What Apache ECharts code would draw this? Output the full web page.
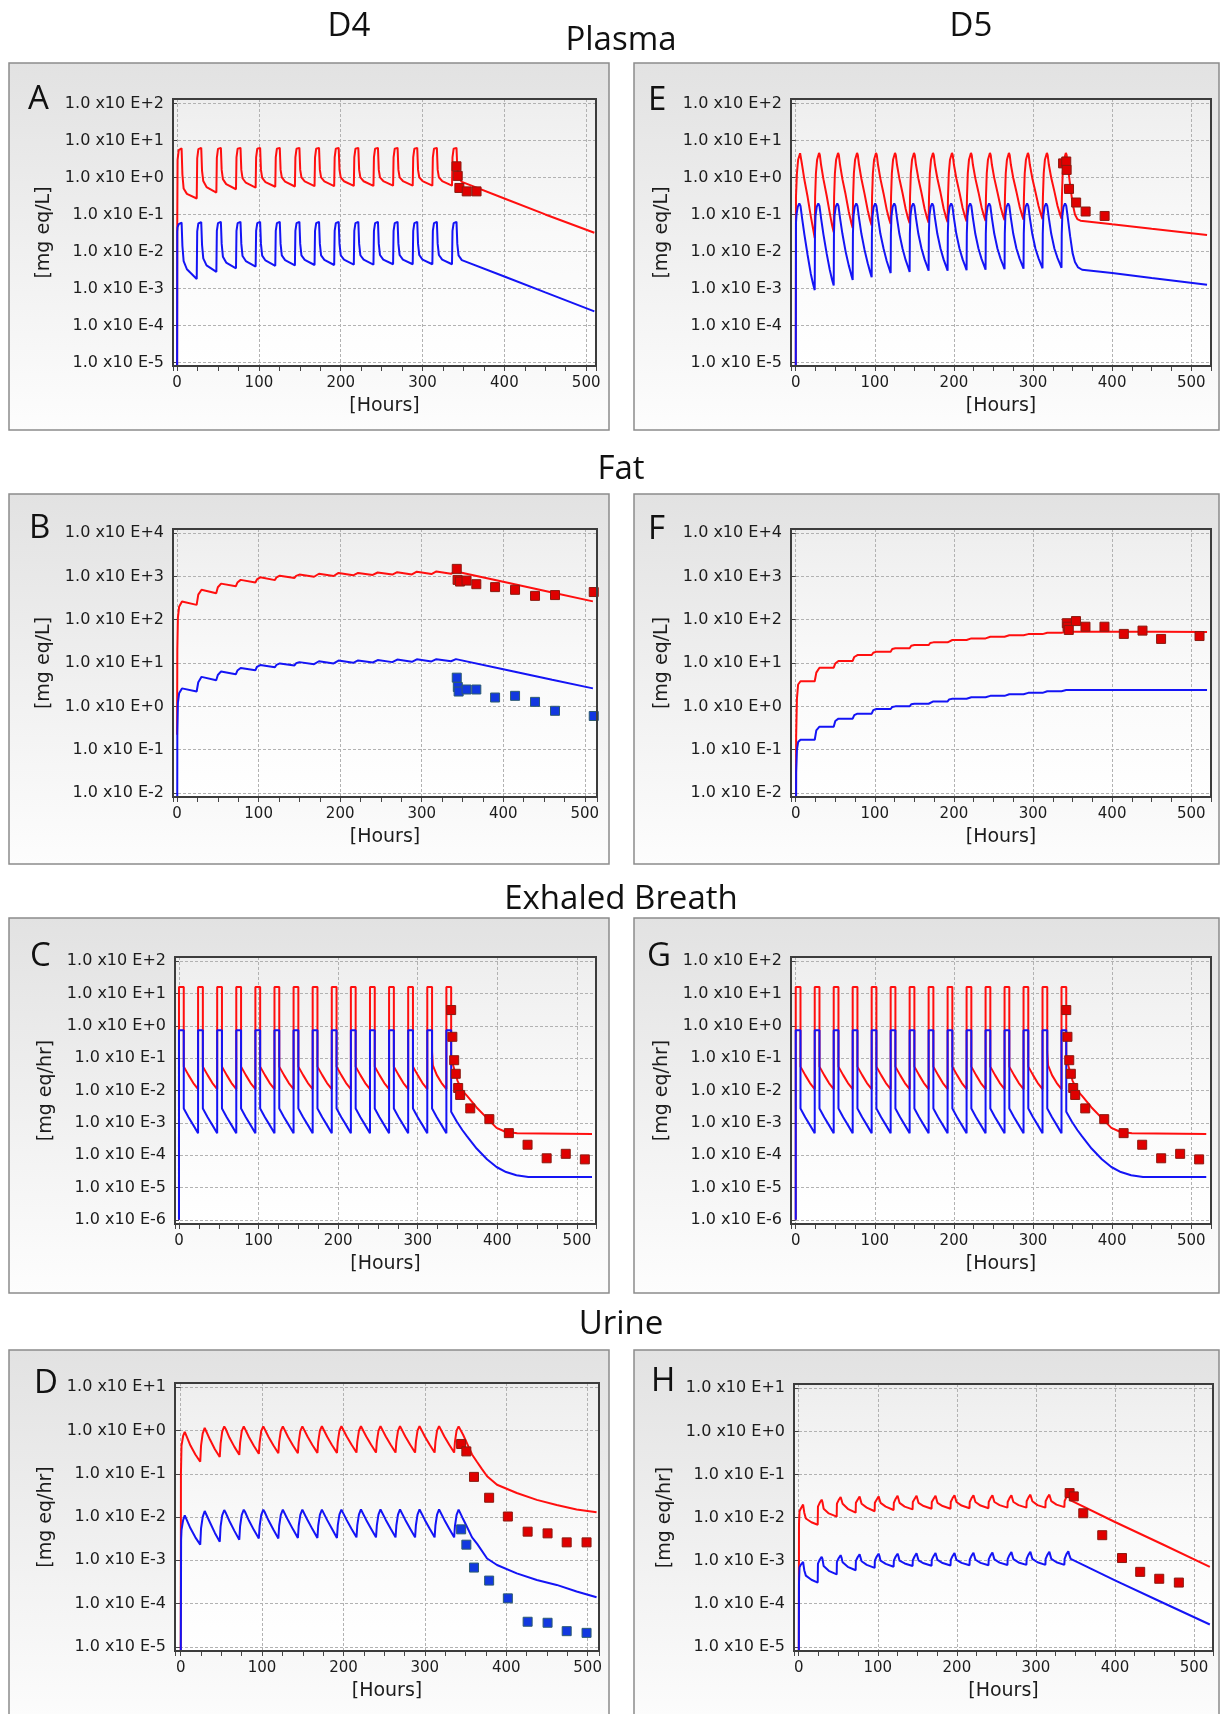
<!DOCTYPE html>
<html>
<head>
<meta charset="utf-8">
<title>Plasma, Fat, Exhaled Breath, Urine</title>
<script src="https://cdn.jsdelivr.net/npm/echarts@6.0.0/dist/echarts.min.js"></script>
<style>
  html, body { margin: 0; padding: 0; background: #fff; }
  #chart { width: 1221px; height: 1714px; }
</style>
</head>
<body>
<div id="chart"></div>
<script>
// ---- data: [hours, value] ----
// Plasma D4 (A)
const plasmaD4Red = [
  [0,1e-6],[0.2,0.06],[0.6,3.0],[2,5.5],[5.5,6.1],[6.5,1.2],[8,0.5],[12,0.36],[24,0.27],
  [24.6,3.3],[26,5.8],[29.5,6.3],[30.5,1.5],[32,0.8],[36,0.55],[48,0.39],
  [48.6,3.4],[50,5.9],[53.5,6.3],[54.5,1.6],[56,0.9],[60,0.66],[72,0.48],
  [72.6,3.5],[74,6],[77.5,6.3],[78.5,1.6],[80,0.95],[84,0.72],[96,0.53],
  [96.6,3.5],[98,6],[101.5,6.3],[102.5,1.6],[104,0.97],[108,0.75],[120,0.56],
  [120.6,3.5],[122,6],[125.5,6.3],[126.5,1.6],[128,1.0],[132,0.77],[144,0.57],
  [144.6,3.5],[146,6],[149.5,6.3],[150.5,1.6],[152,1.0],[156,0.78],[168,0.58],
  [168.6,3.5],[170,6],[173.5,6.3],[174.5,1.6],[176,1.0],[180,0.78],[192,0.58],
  [192.6,3.5],[194,6],[197.5,6.3],[198.5,1.6],[200,1.0],[204,0.79],[216,0.59],
  [216.6,3.5],[218,6],[221.5,6.3],[222.5,1.6],[224,1.0],[228,0.79],[240,0.59],
  [240.6,3.5],[242,6],[245.5,6.3],[246.5,1.6],[248,1.0],[252,0.8],[264,0.6],
  [264.6,3.5],[266,6],[269.5,6.3],[270.5,1.6],[272,1.0],[276,0.8],[288,0.6],
  [288.6,3.5],[290,6],[293.5,6.3],[294.5,1.6],[296,1.0],[300,0.8],[312,0.6],
  [312.6,3.5],[314,6],[317.5,6.3],[318.5,1.6],[320,1.0],[324,0.8],[336,0.6],
  [336.6,3.5],[338,6],[341.5,6.3],[342.5,1.8],[344,1.0],[348,0.76],[400,0.27],[450,0.1],[510,0.032]
];
const plasmaD4Blue = [
  [0,1e-6],[0.2,0.035],[0.6,0.045],[2,0.055],[5.5,0.06],[6.5,0.014],[8,0.0055],[12,0.0033],[24,0.0018],
  [24.6,0.035],[26,0.057],[29.5,0.062],[30.5,0.015],[32,0.0065],[36,0.0042],[48,0.0028],
  [48.6,0.036],[50,0.058],[53.5,0.063],[54.5,0.016],[56,0.0072],[60,0.005],[72,0.0035],
  [72.6,0.036],[74,0.058],[77.5,0.063],[78.5,0.016],[80,0.0075],[84,0.0055],[96,0.0039],
  [96.6,0.036],[98,0.058],[101.5,0.063],[102.5,0.016],[104,0.0077],[108,0.0057],[120,0.0041],
  [120.6,0.036],[122,0.058],[125.5,0.063],[126.5,0.016],[128,0.0078],[132,0.0058],[144,0.0042],
  [144.6,0.036],[146,0.058],[149.5,0.063],[150.5,0.016],[152,0.0078],[156,0.0059],[168,0.0043],
  [168.6,0.036],[170,0.058],[173.5,0.063],[174.5,0.016],[176,0.0078],[180,0.0059],[192,0.0043],
  [192.6,0.036],[194,0.058],[197.5,0.063],[198.5,0.016],[200,0.0079],[204,0.006],[216,0.0044],
  [216.6,0.036],[218,0.058],[221.5,0.063],[222.5,0.016],[224,0.0079],[228,0.006],[240,0.0044],
  [240.6,0.036],[242,0.058],[245.5,0.063],[246.5,0.016],[248,0.008],[252,0.006],[264,0.0045],
  [264.6,0.036],[266,0.058],[269.5,0.063],[270.5,0.016],[272,0.008],[276,0.006],[288,0.0045],
  [288.6,0.036],[290,0.058],[293.5,0.063],[294.5,0.016],[296,0.008],[300,0.006],[312,0.0045],
  [312.6,0.036],[314,0.058],[317.5,0.063],[318.5,0.016],[320,0.008],[324,0.006],[336,0.0045],
  [336.6,0.036],[338,0.058],[341.5,0.063],[342.5,0.016],[344,0.0078],[348,0.0058],[400,0.0021],[450,0.00078],[510,0.00024]
];
const plasmaD4Obs = [[341.5,2.0],[343,1.1],[345,0.52],[354,0.42],[366,0.42]];

// Plasma D5 (E)
const plasmaD5Red = [
  [0,1e-6],[0.3,0.3],[1.5,1.3],[3,3.0],[5.5,4.5],[6.5,4.0],[8,2.2],[11,0.85],[15,0.3],[19,0.09],[22,0.04],[24,0.023],
  [24.5,0.3],[25.5,1.3],[27,3.0],[29.5,4.6],[30.5,4.0],[32,2.2],[35,0.9],[39,0.33],[43,0.11],[46,0.05],[48,0.033],
  [48.5,0.3],[49.5,1.3],[51,3.0],[53.5,4.6],[54.5,4.0],[56,2.2],[59,0.9],[63,0.35],[67,0.12],[70,0.062],[72,0.043],
  [72.5,0.3],[73.5,1.3],[75,3.0],[77.5,4.6],[78.5,4.0],[80,2.2],[83,0.92],[87,0.36],[91,0.13],[94,0.07],[96,0.05],
  [96.5,0.3],[97.5,1.3],[99,3.0],[101.5,4.6],[102.5,4.0],[104,2.2],[107,0.93],[111,0.37],[115,0.135],[118,0.075],[120,0.055],
  [120.5,0.3],[121.5,1.3],[123,3.0],[125.5,4.6],[126.5,4.0],[128,2.2],[131,0.94],[135,0.38],[139,0.14],[142,0.078],[144,0.058],
  [144.5,0.3],[145.5,1.3],[147,3.0],[149.5,4.6],[150.5,4.0],[152,2.2],[155,0.94],[159,0.38],[163,0.14],[166,0.08],[168,0.06],
  [168.5,0.3],[169.5,1.3],[171,3.0],[173.5,4.6],[174.5,4.0],[176,2.2],[179,0.95],[183,0.39],[187,0.145],[190,0.083],[192,0.062],
  [192.5,0.3],[193.5,1.3],[195,3.0],[197.5,4.6],[198.5,4.0],[200,2.2],[203,0.95],[207,0.39],[211,0.15],[214,0.087],[216,0.065],
  [216.5,0.3],[217.5,1.3],[219,3.0],[221.5,4.6],[222.5,4.0],[224,2.2],[227,0.96],[231,0.4],[235,0.155],[238,0.09],[240,0.067],
  [240.5,0.3],[241.5,1.3],[243,3.0],[245.5,4.6],[246.5,4.0],[248,2.2],[251,0.96],[255,0.4],[259,0.16],[262,0.093],[264,0.07],
  [264.5,0.3],[265.5,1.3],[267,3.0],[269.5,4.6],[270.5,4.0],[272,2.2],[275,0.97],[279,0.41],[283,0.165],[286,0.096],[288,0.072],
  [288.5,0.3],[289.5,1.3],[291,3.0],[293.5,4.6],[294.5,4.0],[296,2.2],[299,0.97],[303,0.41],[307,0.17],[310,0.1],[312,0.075],
  [312.5,0.3],[313.5,1.3],[315,3.0],[317.5,4.6],[318.5,4.0],[320,2.2],[323,0.98],[327,0.42],[331,0.17],[334,0.102],[336,0.077],
  [336.5,0.3],[337.5,1.3],[339,3.0],[341.5,4.6],[342.5,4.0],[344,2.0],[347,0.6],[350,0.2],[353,0.1],[356,0.075],[360,0.068],[400,0.054],[450,0.041],[520,0.028]
];
const plasmaD5Blue = [
  [0,1e-6],[0.3,0.06],[1,0.1],[2.5,0.16],[4.5,0.2],[6,0.17],[8,0.08],[11,0.028],[15,0.008],[19,0.0025],[22,0.0013],[24,0.0009],
  [24.3,0.03],[25,0.09],[26.5,0.16],[28.5,0.2],[30,0.17],[32,0.08],[35,0.029],[39,0.009],[43,0.0032],[46,0.0017],[48,0.0012],
  [48.3,0.03],[49,0.09],[50.5,0.16],[52.5,0.2],[54,0.17],[56,0.08],[59,0.03],[63,0.01],[67,0.0042],[70,0.0024],[72,0.0017],
  [72.3,0.03],[73,0.09],[74.5,0.16],[76.5,0.2],[78,0.17],[80,0.08],[83,0.03],[87,0.011],[91,0.0048],[94,0.0028],[96,0.002],
  [96.3,0.03],[97,0.09],[98.5,0.16],[100.5,0.2],[102,0.17],[104,0.08],[107,0.03],[111,0.012],[115,0.0055],[118,0.0035],[120,0.0026],
  [120.3,0.03],[121,0.09],[122.5,0.16],[124.5,0.2],[126,0.17],[128,0.08],[131,0.03],[135,0.012],[139,0.0058],[142,0.0038],[144,0.0028],
  [144.3,0.03],[145,0.09],[146.5,0.16],[148.5,0.2],[150,0.17],[152,0.08],[155,0.03],[159,0.012],[163,0.006],[166,0.004],[168,0.003],
  [168.3,0.03],[169,0.09],[170.5,0.16],[172.5,0.2],[174,0.17],[176,0.08],[179,0.03],[183,0.012],[187,0.006],[190,0.004],[192,0.003],
  [192.3,0.03],[193,0.09],[194.5,0.16],[196.5,0.2],[198,0.17],[200,0.08],[203,0.03],[207,0.012],[211,0.0061],[214,0.0041],[216,0.0031],
  [216.3,0.03],[217,0.09],[218.5,0.16],[220.5,0.2],[222,0.17],[224,0.08],[227,0.03],[231,0.012],[235,0.0062],[238,0.0042],[240,0.0032],
  [240.3,0.03],[241,0.09],[242.5,0.16],[244.5,0.2],[246,0.17],[248,0.08],[251,0.03],[255,0.012],[259,0.0063],[262,0.0043],[264,0.0033],
  [264.3,0.03],[265,0.09],[266.5,0.16],[268.5,0.2],[270,0.17],[272,0.08],[275,0.03],[279,0.012],[283,0.0064],[286,0.0044],[288,0.0034],
  [288.3,0.03],[289,0.09],[290.5,0.16],[292.5,0.2],[294,0.17],[296,0.08],[299,0.03],[303,0.012],[307,0.0065],[310,0.0045],[312,0.0035],
  [312.3,0.03],[313,0.09],[314.5,0.16],[316.5,0.2],[318,0.17],[320,0.08],[323,0.03],[327,0.012],[331,0.0066],[334,0.0046],[336,0.0036],
  [336.3,0.03],[337,0.09],[338.5,0.16],[340.5,0.2],[342,0.17],[344,0.08],[347,0.025],[350,0.009],[353,0.0052],[357,0.0037],[362,0.0032],[400,0.0026],[450,0.0019],[520,0.00125]
];
const plasmaD5Obs = [[338,2.4],[342,2.7],[342.5,1.6],[345.5,0.49],[354.5,0.21],[366.5,0.12],[390.5,0.091]];

// Fat D4 (B)
const fatD4Red = [
  [0,0.22],[0.3,20],[1,110],[2.5,200],[6,262],[24,220],[26,380],[30,490],[48,410],[50,560],[54,680],[72,590],
  [74,720],[78,830],[96,720],[98,850],[102,950],[120,820],[122,950],[126,1040],[144,920],[146,1030],[150,1100],
  [168,980],[170,1080],[174,1150],[192,1020],[194,1120],[198,1200],[216,1060],[218,1140],[222,1200],[240,1080],
  [242,1170],[246,1230],[264,1100],[266,1190],[270,1250],[288,1110],[290,1210],[294,1280],[312,1130],[314,1230],
  [318,1300],[336,1150],[338,1240],[342,1300],[400,750],[460,425],[510,265]
];
const fatD4Blue = [
  [0,1e-6],[0.3,0.25],[1,1.2],[2.5,2.0],[6,2.6],[24,2.2],[26,3.6],[30,4.8],[48,4.0],[50,5.3],[54,6.4],[72,5.5],
  [74,6.7],[78,7.7],[96,6.8],[98,8.2],[102,9.0],[120,8.0],[122,9.1],[126,9.8],[144,8.8],[146,9.9],[150,10.5],
  [168,9.4],[170,10.4],[174,11.0],[192,9.8],[194,10.8],[198,11.4],[216,10.1],[218,11.0],[222,11.5],[240,10.3],
  [242,11.2],[246,11.7],[264,10.5],[266,11.4],[270,12.0],[288,10.7],[290,11.6],[294,12.2],[312,10.9],[314,11.8],
  [318,12.3],[336,11.0],[338,11.9],[342,12.3],[400,7.2],[460,4.1],[510,2.6]
];
const fatD4ObsRed = [[343,1490],[344,830],[347,760],[355,800],[367,660],[390,565],[414.5,490],[439,355],[463.5,370],[511,435]];
const fatD4ObsBlue = [[343,4.6],[344.3,2.8],[345.3,2.2],[355,2.45],[367,2.45],[390,1.6],[414.5,1.75],[439,1.27],[463.5,0.79],[511,0.6]];

// Fat D5 (F)
const fatD5Red = [
  [0,1e-6],[0.5,0.2],[1.5,1.5],[3,3.2],[6,3.8],[24,3.8],[26,6],[30,7.8],[48,7.8],[50,9.8],[54,11.2],[72,11.2],
  [74,13.8],[78,15.3],[96,15.3],[98,17.3],[102,18.3],[120,18.3],[122,21],[126,22],[144,22],[146,25],[150,26],
  [168,26],[170,29],[174,30],[192,30],[194,33],[198,34],[216,34],[218,36.5],[222,37],[240,37],[242,40],[246,40.5],
  [264,40.5],[266,43],[270,43.6],[288,43.6],[290,46],[294,46.5],[312,46.5],[314,49.5],[318,50],[336,50],[338,52],
  [342,53],[400,53],[460,52.5],[520,52]
];
const fatD5Blue = [
  [0,1e-6],[0.5,0.03],[1.5,0.1],[3,0.15],[6,0.17],[24,0.17],[26,0.28],[30,0.34],[48,0.34],[50,0.46],[54,0.52],
  [72,0.52],[74,0.63],[78,0.68],[96,0.68],[98,0.82],[102,0.87],[120,0.87],[122,0.97],[126,1.0],[144,1.0],
  [146,1.12],[150,1.15],[168,1.15],[170,1.27],[174,1.3],[192,1.3],[194,1.45],[198,1.5],[216,1.5],[218,1.6],
  [222,1.62],[240,1.62],[242,1.72],[246,1.75],[264,1.75],[266,1.88],[270,1.9],[288,1.9],[290,2.02],[294,2.05],
  [312,2.05],[314,2.2],[318,2.24],[336,2.24],[338,2.35],[342,2.38],[400,2.4],[460,2.4],[520,2.38]
];
const fatD5Obs = [[342.7,83],[343.7,69],[345.2,58],[354.3,93],[366.3,69],[390.3,69],[414.8,47],[438.4,56],[461.9,36],[510.5,42]];

// Exhaled breath (C and G show the same curves)
const breathRed = [
  [0,1e-6],[0,16],[6,16],[6,0.055],[12,0.03],[18,0.017],[24,0.011],
  [24,16],[30,16],[30,0.055],[36,0.03],[42,0.017],[48,0.011],
  [48,16],[54,16],[54,0.055],[60,0.03],[66,0.017],[72,0.011],
  [72,16],[78,16],[78,0.055],[84,0.03],[90,0.017],[96,0.011],
  [96,16],[102,16],[102,0.055],[108,0.03],[114,0.017],[120,0.011],
  [120,16],[126,16],[126,0.055],[132,0.03],[138,0.017],[144,0.011],
  [144,16],[150,16],[150,0.055],[156,0.03],[162,0.017],[168,0.011],
  [168,16],[174,16],[174,0.055],[180,0.03],[186,0.017],[192,0.011],
  [192,16],[198,16],[198,0.055],[204,0.03],[210,0.017],[216,0.011],
  [216,16],[222,16],[222,0.055],[228,0.03],[234,0.017],[240,0.011],
  [240,16],[246,16],[246,0.055],[252,0.03],[258,0.017],[264,0.011],
  [264,16],[270,16],[270,0.055],[276,0.03],[282,0.017],[288,0.011],
  [288,16],[294,16],[294,0.055],[300,0.03],[306,0.017],[312,0.011],
  [312,16],[318,16],[318,0.16],[319,0.06],[324,0.03],[330,0.017],[336,0.011],
  [336,16],[342,16],[342,0.1],[346,0.045],[350,0.02],[356,0.01],[362,0.0068],[374,0.003],[387,0.0014],
  [399,0.0007],[410,0.00053],[425,0.00048],[519,0.00045]
];
const breathBlue = [
  [0,1e-6],[0,0.74],[6,0.74],[6,0.0028],[12,0.0015],[18,0.00085],[24,0.00048],
  [24,0.74],[30,0.74],[30,0.0028],[36,0.0015],[42,0.00085],[48,0.00048],
  [48,0.74],[54,0.74],[54,0.0028],[60,0.0015],[66,0.00085],[72,0.00048],
  [72,0.74],[78,0.74],[78,0.0028],[84,0.0015],[90,0.00085],[96,0.00048],
  [96,0.74],[102,0.74],[102,0.0028],[108,0.0015],[114,0.00085],[120,0.00048],
  [120,0.74],[126,0.74],[126,0.0028],[132,0.0015],[138,0.00085],[144,0.00048],
  [144,0.74],[150,0.74],[150,0.0028],[156,0.0015],[162,0.00085],[168,0.00048],
  [168,0.74],[174,0.74],[174,0.0028],[180,0.0015],[186,0.00085],[192,0.00048],
  [192,0.74],[198,0.74],[198,0.0028],[204,0.0015],[210,0.00085],[216,0.00048],
  [216,0.74],[222,0.74],[222,0.0028],[228,0.0015],[234,0.00085],[240,0.00048],
  [240,0.74],[246,0.74],[246,0.0028],[252,0.0015],[258,0.00085],[264,0.00048],
  [264,0.74],[270,0.74],[270,0.0028],[276,0.0015],[282,0.00085],[288,0.00048],
  [288,0.74],[294,0.74],[294,0.0028],[300,0.0015],[306,0.00085],[312,0.00048],
  [312,0.74],[318,0.74],[318,0.0028],[324,0.0015],[330,0.00085],[336,0.00048],
  [336,0.74],[342,0.74],[342,0.0022],[349,0.0011],[356,0.0006],[362,0.00038],[374,0.00016],[387,0.000075],
  [399,0.000043],[411,0.00003],[424,0.000024],[439,0.000021],[519,0.000021]
];
const breathObs = [[342,3.1],[343.5,0.46],[345.8,0.087],[347.8,0.033],[350.8,0.012],[353.3,0.0073],[366,0.0028],
  [390,0.0013],[414.5,0.00048],[438,0.00021],[462,0.00008],[486,0.00011],[510,0.000074]];

// Urine D4 (D)
const urineD4Red = [
  [0,1e-6],[0.3,0.1],[1,0.45],[3,0.75],[5,0.93],[6.5,0.88],[12,0.45],[18,0.28],[24,0.19],
  [25,0.45],[27,0.85],[29.5,1.15],[31,1.05],[36,0.62],[42,0.37],[48,0.245],
  [49,0.5],[51,0.95],[53.5,1.25],[55,1.12],[60,0.68],[66,0.42],[72,0.275],
  [73,0.52],[75,0.97],[77.5,1.25],[79,1.13],[84,0.7],[90,0.44],[96,0.29],
  [97,0.53],[99,0.98],[101.5,1.25],[103,1.14],[108,0.71],[114,0.45],[120,0.3],
  [121,0.54],[123,0.98],[125.5,1.25],[127,1.14],[132,0.71],[138,0.45],[144,0.3],
  [145,0.54],[147,0.98],[149.5,1.25],[151,1.14],[156,0.72],[162,0.46],[168,0.305],
  [169,0.55],[171,0.99],[173.5,1.26],[175,1.15],[180,0.72],[186,0.46],[192,0.305],
  [193,0.55],[195,0.99],[197.5,1.26],[199,1.15],[204,0.73],[210,0.47],[216,0.31],
  [217,0.55],[219,0.99],[221.5,1.26],[223,1.15],[228,0.73],[234,0.47],[240,0.31],
  [241,0.55],[243,0.99],[245.5,1.27],[247,1.16],[252,0.73],[258,0.47],[264,0.31],
  [265,0.55],[267,0.99],[269.5,1.27],[271,1.16],[276,0.73],[282,0.47],[288,0.31],
  [289,0.55],[291,1.0],[293.5,1.27],[295,1.16],[300,0.73],[306,0.47],[312,0.31],
  [313,0.55],[315,1.0],[317.5,1.27],[319,1.16],[324,0.73],[330,0.47],[336,0.31],
  [337,0.55],[339,1.0],[341.5,1.25],[343,1.15],[347,0.8],[352,0.5],[358,0.28],[364,0.19],[370,0.13],
  [376.5,0.088],[388.7,0.056],[413,0.036],[437.6,0.025],[462,0.019],[486.5,0.015],[511,0.013]
];
const urineD4Blue = [
  [0,1e-6],[0.5,0.003],[1,0.005],[3,0.0085],[5,0.011],[6.5,0.0105],[12,0.0055],[18,0.0034],[24,0.0023],
  [25,0.0055],[27,0.01],[29.5,0.0138],[31,0.0125],[36,0.0075],[42,0.0043],[48,0.0027],
  [49,0.006],[51,0.011],[53.5,0.0145],[55,0.013],[60,0.008],[66,0.0048],[72,0.003],
  [73,0.0062],[75,0.0112],[77.5,0.0148],[79,0.0133],[84,0.0082],[90,0.005],[96,0.0032],
  [97,0.0062],[99,0.0112],[101.5,0.0148],[103,0.0133],[108,0.0083],[114,0.0051],[120,0.0032],
  [121,0.0063],[123,0.0113],[125.5,0.0148],[127,0.0134],[132,0.0084],[138,0.0052],[144,0.0033],
  [145,0.0063],[147,0.0113],[149.5,0.0148],[151,0.0134],[156,0.0084],[162,0.0052],[168,0.0033],
  [169,0.0063],[171,0.0113],[173.5,0.0149],[175,0.0135],[180,0.0085],[186,0.0053],[192,0.0033],
  [193,0.0064],[195,0.0114],[197.5,0.0149],[199,0.0135],[204,0.0085],[210,0.0053],[216,0.0034],
  [217,0.0064],[219,0.0114],[221.5,0.015],[223,0.0136],[228,0.0086],[234,0.0054],[240,0.0034],
  [241,0.0064],[243,0.0114],[245.5,0.015],[247,0.0136],[252,0.0086],[258,0.0054],[264,0.0034],
  [265,0.0064],[267,0.0114],[269.5,0.015],[271,0.0136],[276,0.0086],[282,0.0054],[288,0.0034],
  [289,0.0064],[291,0.0114],[293.5,0.015],[295,0.0136],[300,0.0086],[306,0.0054],[312,0.0034],
  [313,0.0064],[315,0.0114],[317.5,0.015],[319,0.0136],[324,0.0086],[330,0.0054],[336,0.0034],
  [337,0.0062],[339,0.0112],[341.5,0.0148],[343,0.013],[347,0.009],[352,0.0058],[358,0.0034],[364.3,0.0024],
  [376.5,0.0011],[388.7,0.00078],[413,0.0005],[437.6,0.00035],[462,0.00027],[486.5,0.00019],[511,0.00014]
];
const urineD4ObsRed = [[344.6,0.49],[351,0.33],[360.4,0.085],[379,0.028],[402,0.0103],[426.3,0.0046],[450.8,0.0042],[474.3,0.0026],[498.7,0.0026]];
const urineD4ObsBlue = [[344.6,0.0052],[351,0.0023],[360.4,0.00068],[379,0.00034],[402,0.000132],[426.3,0.000038],[450.8,0.000036],[474.3,0.000023],[498.7,0.000021]];

// Urine D5 (H)
const urineD5Red = [
  [0,1e-6],[0.3,0.007],[1,0.014],[2.5,0.016],[3.5,0.015],[5.5,0.02],[7,0.013],[9,0.0095],[16,0.0078],[24,0.0068],
  [24.3,0.018],[26.5,0.022],[29,0.026],[30,0.023],[31.5,0.016],[38,0.0125],[48,0.0105],
  [48.3,0.021],[50.5,0.0255],[53,0.03],[54,0.027],[55.5,0.021],[62,0.016],[72,0.013],
  [72.3,0.022],[74.5,0.026],[77,0.031],[78,0.028],[79.5,0.021],[86,0.017],[96,0.014],
  [96.3,0.022],[98.5,0.026],[101,0.031],[102,0.028],[103.5,0.022],[110,0.018],[120,0.015],
  [120.3,0.022],[122.5,0.027],[125,0.032],[126,0.029],[127.5,0.022],[134,0.018],[144,0.0155],
  [144.3,0.023],[146.5,0.027],[149,0.032],[150,0.029],[151.5,0.022],[158,0.0185],[168,0.016],
  [168.3,0.023],[170.5,0.027],[173,0.032],[174,0.029],[175.5,0.022],[182,0.0185],[192,0.016],
  [192.3,0.023],[194.5,0.028],[197,0.033],[198,0.03],[199.5,0.023],[206,0.019],[216,0.0165],
  [216.3,0.023],[218.5,0.028],[221,0.033],[222,0.03],[223.5,0.023],[230,0.019],[240,0.0165],
  [240.3,0.023],[242.5,0.028],[245,0.033],[246,0.03],[247.5,0.023],[254,0.0195],[264,0.017],
  [264.3,0.023],[266.5,0.028],[269,0.033],[270,0.03],[271.5,0.023],[278,0.0195],[288,0.017],
  [288.3,0.024],[290.5,0.029],[293,0.034],[294,0.031],[295.5,0.024],[302,0.0195],[312,0.017],
  [312.3,0.024],[314.5,0.029],[317,0.034],[318,0.031],[319.5,0.024],[326,0.02],[336,0.0175],
  [336.3,0.024],[338.5,0.03],[341,0.035],[342,0.031],[344,0.025],[346,0.023],[400,0.0079],[460,0.0024],[520,0.00072]
];
const urineD5Blue = [
  [0,1e-6],[0.3,0.0003],[1,0.0007],[2.5,0.0008],[3.5,0.00075],[5.5,0.00093],[7,0.0006],[9,0.00045],[16,0.00036],[24,0.00031],
  [24.3,0.00085],[26.5,0.00105],[29,0.00123],[30,0.0011],[31.5,0.00075],[38,0.00058],[48,0.00048],
  [48.3,0.00094],[50.5,0.00114],[53,0.00134],[54,0.0012],[55.5,0.00092],[62,0.00072],[72,0.0006],
  [72.3,0.00098],[74.5,0.0012],[77,0.0014],[78,0.00126],[79.5,0.00097],[86,0.0008],[96,0.00068],
  [96.3,0.001],[98.5,0.00123],[101,0.00145],[102,0.0013],[103.5,0.001],[110,0.00084],[120,0.00072],
  [120.3,0.001],[122.5,0.00123],[125,0.00145],[126,0.0013],[127.5,0.001],[134,0.00086],[144,0.00075],
  [144.3,0.00102],[146.5,0.00125],[149,0.00148],[150,0.00133],[151.5,0.00102],[158,0.00087],[168,0.00076],
  [168.3,0.00104],[170.5,0.00127],[173,0.0015],[174,0.00135],[175.5,0.00104],[182,0.00088],[192,0.00077],
  [192.3,0.00104],[194.5,0.00127],[197,0.0015],[198,0.00135],[199.5,0.00104],[206,0.00089],[216,0.00078],
  [216.3,0.00105],[218.5,0.00129],[221,0.00152],[222,0.00137],[223.5,0.00105],[230,0.00089],[240,0.00078],
  [240.3,0.00107],[242.5,0.00131],[245,0.00155],[246,0.0014],[247.5,0.00107],[254,0.0009],[264,0.00079],
  [264.3,0.00109],[266.5,0.00134],[269,0.00158],[270,0.00142],[271.5,0.00109],[278,0.00091],[288,0.0008],
  [288.3,0.0011],[290.5,0.00136],[293,0.0016],[294,0.00144],[295.5,0.0011],[302,0.00092],[312,0.0008],
  [312.3,0.0011],[314.5,0.00136],[317,0.0016],[318,0.00144],[319.5,0.0011],[326,0.00092],[336,0.0008],
  [336.3,0.0011],[338.5,0.0014],[341,0.00165],[342,0.0014],[344,0.0011],[346,0.001],[400,0.00035],[460,0.000107],[520,0.000033]
];
const urineD5Obs = [[342.6,0.037],[347.9,0.031],[359.9,0.0126],[383.9,0.0039],[408.9,0.00115],[431.9,0.00055],[456,0.00038],[480.8,0.00031]];

// ---- layout ----
const FONT_AXIS = 'DejaVu Sans';
const FONT_TITLE = '"Open Sans"';
const RED = '#ff0f0f';
const BLUE = '#1414f5';

const panels = [
  { letter: 'A', lx: 28, ly: 100, box: [9, 63, 600, 367], grid: [173, 99, 423, 267], hours: [-5, 512], range: [8e-6, 132], unit: '[mg eq/L]', red: plasmaD4Red, blue: plasmaD4Blue, obsRed: plasmaD4Obs },
  { letter: 'E', lx: 648, ly: 101, box: [634, 63, 585, 367], grid: [791, 99, 420, 267], hours: [-6, 525], range: [8e-6, 132], unit: '[mg eq/L]', red: plasmaD5Red, blue: plasmaD5Blue, obsRed: plasmaD5Obs },
  { letter: 'B', lx: 29, ly: 529, box: [9, 494, 600, 370], grid: [173, 529, 424, 268], hours: [-5, 515], range: [0.0081, 12400], unit: '[mg eq/L]', red: fatD4Red, blue: fatD4Blue, obsRed: fatD4ObsRed, obsBlue: fatD4ObsBlue },
  { letter: 'F', lx: 648, ly: 530, box: [634, 494, 585, 370], grid: [791, 529, 420, 268], hours: [-6, 525], range: [0.0081, 12400], unit: '[mg eq/L]', red: fatD5Red, blue: fatD5Blue, obsRed: fatD5Obs },
  { letter: 'C', lx: 30, ly: 957, box: [9, 918, 600, 375], grid: [175, 957, 421, 267], hours: [-5, 524], range: [7.4e-7, 136], unit: '[mg eq/hr]', red: breathRed, blue: breathBlue, obsRed: breathObs },
  { letter: 'G', lx: 647, ly: 957, box: [634, 918, 585, 375], grid: [791, 957, 420, 267], hours: [-6, 525], range: [7.4e-7, 136], unit: '[mg eq/hr]', red: breathRed, blue: breathBlue, obsRed: breathObs },
  { letter: 'D', lx: 34, ly: 1384, box: [9, 1350, 600, 380], grid: [175, 1383, 424, 268], hours: [-7, 514], range: [8e-6, 12.6], unit: '[mg eq/hr]', red: urineD4Red, blue: urineD4Blue, obsRed: urineD4ObsRed, obsBlue: urineD4ObsBlue },
  { letter: 'H', lx: 651, ly: 1382, box: [634, 1350, 585, 380], grid: [794, 1384, 419, 267], hours: [-6, 524], range: [8e-6, 12.6], unit: '[mg eq/hr]', red: urineD5Red, blue: urineD5Blue, obsRed: urineD5Obs }
];

const headings = [
  { text: 'D4', x: 349, y: 27 },
  { text: 'D5', x: 971, y: 27 },
  { text: 'Plasma', x: 621, y: 41 },
  { text: 'Fat', x: 621, y: 470 },
  { text: 'Exhaled Breath', x: 621, y: 900 },
  { text: 'Urine', x: 621, y: 1325 }
];

// "1.0 x10 E+2" style labels, only on whole decades
function decadeLabel(v) {
  const e = Math.log10(v);
  const r = Math.round(e);
  if (Math.abs(e - r) > 1e-6) return '';
  return '1.0 x10 E' + (r < 0 ? '-' : '+') + Math.abs(r);
}
function hourLabel(v) {
  return v >= 0 && v % 100 === 0 ? String(v) : '';
}

const boxFill = new echarts.graphic.LinearGradient(0, 0, 0, 1, [
  { offset: 0, color: '#e2e2e2' }, { offset: 0.55, color: '#f1f1f1' }, { offset: 1, color: '#fdfdfd' }
]);
const plotFill = new echarts.graphic.LinearGradient(0, 0, 0, 1, [
  { offset: 0, color: '#eeeeee' }, { offset: 0.5, color: '#f9f9f9' }, { offset: 1, color: '#ffffff' }
]);
const gridLine = { show: true, lineStyle: { color: '#b2b2b2', width: 1, type: [3, 2] } };

const chart = echarts.init(document.getElementById('chart'), null, { renderer: 'canvas' });

const grids = [], xAxes = [], yAxes = [], series = [], graphics = [];

panels.forEach(function (p, i) {
  grids.push({
    left: p.grid[0], top: p.grid[1], width: p.grid[2], height: p.grid[3],
    show: true, borderWidth: 0, backgroundColor: plotFill,
    containLabel: false, outerBoundsMode: 'none'
  });
  xAxes.push({
    gridIndex: i, type: 'value', min: p.hours[0], max: p.hours[1],
    name: '[Hours]', nameLocation: 'middle', nameGap: 31,
    nameTextStyle: { fontFamily: FONT_AXIS, fontSize: 19, color: '#1c1c1c' },
    axisLine: { show: false },
    axisTick: { show: true, length: 5, lineStyle: { color: '#444' } },
    minorTick: { show: true, splitNumber: 4, length: 5, lineStyle: { color: '#444' } },
    axisLabel: { formatter: hourLabel, margin: 10, fontFamily: FONT_AXIS, fontSize: 15, color: '#1c1c1c', showMinLabel: false, showMaxLabel: false },
    splitLine: gridLine
  });
  yAxes.push({
    gridIndex: i, type: 'log', logBase: 10, min: p.range[0], max: p.range[1],
    name: p.unit, nameLocation: 'middle', nameGap: 119, nameRotate: 90,
    nameTextStyle: { fontFamily: FONT_AXIS, fontSize: 19, color: '#1c1c1c' },
    axisLine: { show: false },
    axisTick: { show: true, length: 5, lineStyle: { color: '#444' } },
    axisLabel: { formatter: decadeLabel, margin: 9, fontFamily: FONT_AXIS, fontSize: 16, color: '#1c1c1c' },
    splitLine: gridLine
  });
  series.push({
    type: 'line', xAxisIndex: i, yAxisIndex: i, data: p.red, showSymbol: false, symbol: 'none',
    lineStyle: { color: RED, width: 2 }, z: 2, clip: true
  });
  series.push({
    type: 'line', xAxisIndex: i, yAxisIndex: i, data: p.blue, showSymbol: false, symbol: 'none',
    lineStyle: { color: BLUE, width: 2 }, z: 3, clip: true
  });
  if (p.obsRed) {
    series.push({
      type: 'scatter', xAxisIndex: i, yAxisIndex: i, data: p.obsRed, symbol: 'rect', symbolSize: 9,
      itemStyle: { color: '#e00000', borderColor: '#8a1a10', borderWidth: 1, opacity: 1 }, z: 4
    });
  }
  if (p.obsBlue) {
    series.push({
      type: 'scatter', xAxisIndex: i, yAxisIndex: i, data: p.obsBlue, symbol: 'rect', symbolSize: 9,
      itemStyle: { color: '#1238e0', borderColor: '#2d5c70', borderWidth: 1, opacity: 1 }, z: 4
    });
  }
  // panel box behind everything
  graphics.push({
    type: 'rect', z: -10, silent: true,
    shape: { x: p.box[0], y: p.box[1], width: p.box[2], height: p.box[3] },
    style: { fill: boxFill, stroke: '#8c8c8c', lineWidth: 1.5 }
  });
  // dark plot frame on top of the dashed grid lines
  graphics.push({
    type: 'rect', z: 20, silent: true,
    shape: { x: p.grid[0], y: p.grid[1], width: p.grid[2], height: p.grid[3] },
    style: { fill: null, stroke: '#3c3c3c', lineWidth: 2 }
  });
  graphics.push({
    type: 'text', z: 10, silent: true, x: p.lx, y: p.ly,
    style: { text: p.letter, fill: '#111', font: '33px ' + FONT_TITLE, align: 'left', verticalAlign: 'middle' }
  });
});

headings.forEach(function (h) {
  graphics.push({
    type: 'text', z: 10, silent: true, x: h.x, y: h.y,
    style: { text: h.text, fill: '#111', font: '33px ' + FONT_TITLE, align: 'center', verticalAlign: 'middle' }
  });
});

chart.setOption({
  animation: false,
  backgroundColor: '#ffffff',
  grid: grids,
  xAxis: xAxes,
  yAxis: yAxes,
  series: series,
  graphic: graphics
});

window.addEventListener('resize', function () { chart.resize(); });
</script>
</body>
</html>
